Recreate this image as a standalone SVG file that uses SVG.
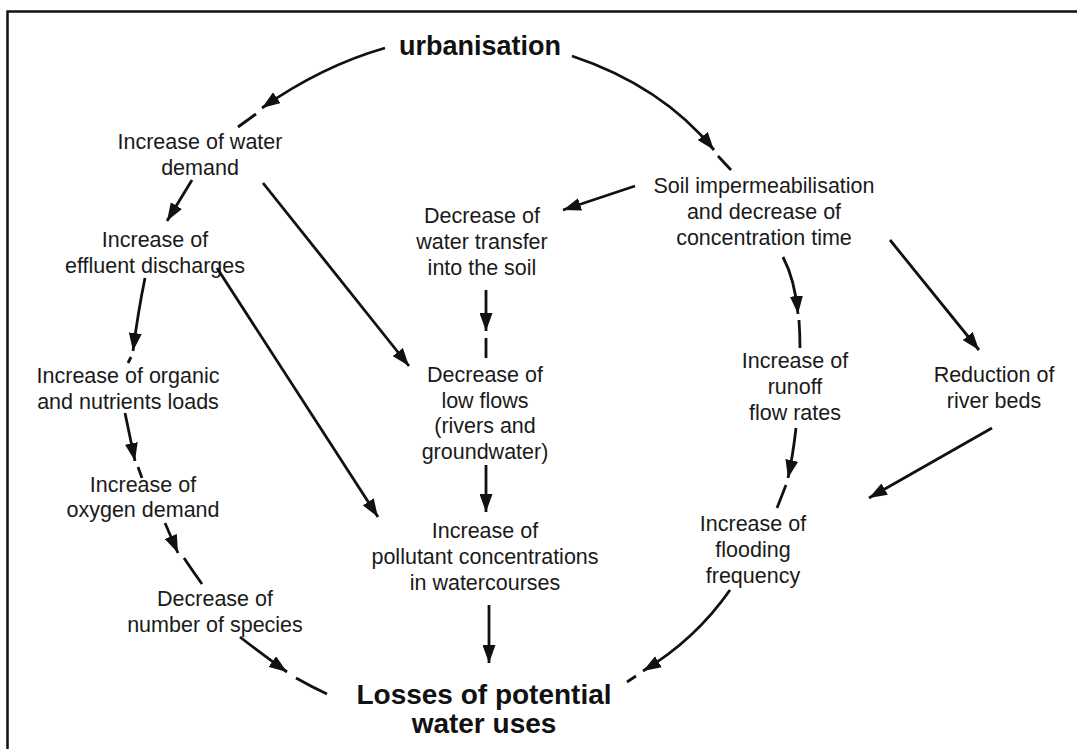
<svg xmlns="http://www.w3.org/2000/svg" width="1077" height="749" viewBox="0 0 1077 749">
<defs>
<marker id="ah" markerUnits="userSpaceOnUse" markerWidth="18" markerHeight="13" refX="18" refY="6.5" orient="auto">
<path d="M0,0 L18,6.5 L0,13 z" fill="#111"/>
</marker>
<style>
.t{font-family:"Liberation Sans",Arial,sans-serif;font-size:21.5px;fill:#1a1a1a;text-anchor:middle}
.b{font-family:"Liberation Sans",Arial,sans-serif;font-weight:bold;fill:#111;text-anchor:middle}
.c path{fill:none;stroke:#111;stroke-width:2.8}
.c .a{marker-end:url(#ah)}
</style>
</defs>
<rect width="1077" height="749" fill="#fff"/>
<path d="M7.5,749 V11.5 H1077" fill="none" stroke="#111" stroke-width="2.5"/>

<g id="urbanisation"><text class="b" x="480" y="55" font-size="27">urbanisation</text></g>
<g id="water-demand"><text class="t" x="200" y="149">Increase of water</text><text class="t" x="200" y="175">demand</text></g>
<g id="effluent"><text class="t" x="155" y="247">Increase of</text><text class="t" x="155" y="273">effluent discharges</text></g>
<g id="water-transfer"><text class="t" x="482" y="223">Decrease of</text><text class="t" x="482" y="249">water transfer</text><text class="t" x="482" y="275">into the soil</text></g>
<g id="soil"><text class="t" x="764" y="193">Soil impermeabilisation</text><text class="t" x="764" y="219">and decrease of</text><text class="t" x="764" y="245">concentration time</text></g>
<g id="organic"><text class="t" x="128" y="383">Increase of organic</text><text class="t" x="128" y="409">and nutrients loads</text></g>
<g id="low-flows"><text class="t" x="485" y="382">Decrease of</text><text class="t" x="485" y="408">low flows</text><text class="t" x="485" y="433">(rivers and</text><text class="t" x="485" y="459">groundwater)</text></g>
<g id="runoff"><text class="t" x="795" y="368">Increase of</text><text class="t" x="795" y="394">runoff</text><text class="t" x="795" y="420">flow rates</text></g>
<g id="river-beds"><text class="t" x="994" y="382">Reduction of</text><text class="t" x="994" y="408">river beds</text></g>
<g id="oxygen"><text class="t" x="143" y="492">Increase of</text><text class="t" x="143" y="517">oxygen demand</text></g>
<g id="pollutant"><text class="t" x="485" y="538">Increase of</text><text class="t" x="485" y="564">pollutant concentrations</text><text class="t" x="485" y="590">in watercourses</text></g>
<g id="flooding"><text class="t" x="753" y="531">Increase of</text><text class="t" x="753" y="557">flooding</text><text class="t" x="753" y="583">frequency</text></g>
<g id="species"><text class="t" x="215" y="606">Decrease of</text><text class="t" x="215" y="632">number of species</text></g>
<g id="losses"><text class="b" x="484" y="704" font-size="28">Losses of potential</text><text class="b" x="484" y="733" font-size="28">water uses</text></g>

<g id="connectors" class="c">
<path class="a" d="M385,48 Q322,66 262,108"/><path d="M256,114 L238,127"/>
<path class="a" d="M572,56 Q662,86 714,150"/><path d="M718,156 L731,170"/>
<path class="a" d="M192,180 L167,221"/>
<path class="a" d="M263,183 L409,366"/>
<path class="a" d="M635,186 L563,210"/>
<path class="a" d="M145,278 Q138,312 133,351"/><path d="M131,357 L128,363"/>
<path class="a" d="M217,268 L378,517"/>
<path class="a" d="M486,290 L486,331"/><path d="M486,338 L486,358"/>
<path class="a" d="M783,257 Q795,280 798,314"/><path d="M799,320 Q800,335 800,348"/>
<path class="a" d="M890,240 L979,350"/>
<path class="a" d="M125,413 L135,461"/><path d="M138,467 L142,478"/>
<path class="a" d="M486,465 L486,512"/>
<path class="a" d="M796,428 Q793,455 788,478"/><path d="M786,485 L777,508"/>
<path class="a" d="M992,428 L869,498"/>
<path class="a" d="M165,523 L178,553"/><path d="M184,558 Q192,570 202,584"/>
<path class="a" d="M240,637 Q263,655 287,672"/><path d="M296,678 Q312,687 327,694"/>
<path class="a" d="M489,605 L489,663"/>
<path class="a" d="M730,590 Q695,640 643,671"/><path d="M636,676 L627,682"/>
</g>
</svg>
